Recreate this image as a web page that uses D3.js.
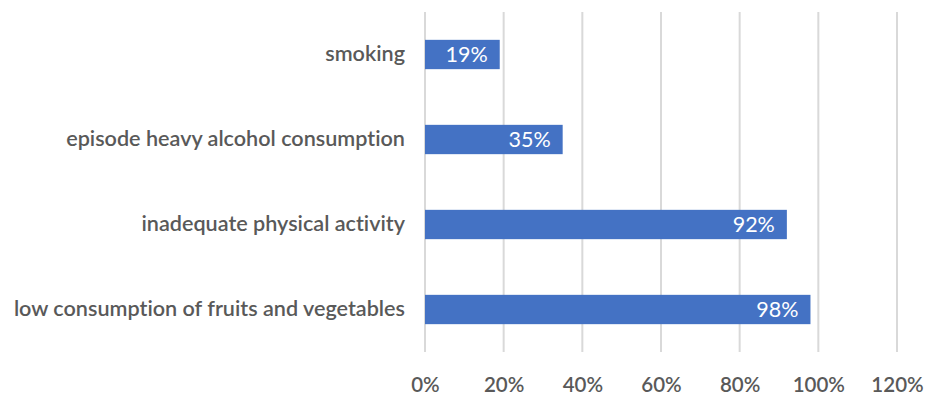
<!DOCTYPE html>
<html>
<head>
<meta charset="utf-8">
<script src="https://cdn.jsdelivr.net/npm/d3@7"></script>
<style>
  html, body { margin: 0; padding: 0; background: #fff; }
  svg { display: block; }
  text { font-family: Lato, "Open Sans", sans-serif; font-variant-ligatures: none; }
</style>
</head>
<body>
<svg id="chart" width="928" height="399"></svg>
<script>
// Risk factors and their prevalence (share of respondents)
const categories = [
  "smoking",
  "episode heavy alcohol consumption",
  "inadequate physical activity",
  "low consumption of fruits and vegetables"
];
const values = [0.19, 0.35, 0.92, 0.98];
const tickValues = [0, 0.2, 0.4, 0.6, 0.8, 1.0, 1.2];

const width = 928, height = 399;
const margin = { top: 12, right: 31, bottom: 47, left: 425 };

const svg = d3.select("#chart");

const x = d3.scaleLinear()
  .domain([0, 1.2])
  .range([margin.left, width - margin.right]);

const y = d3.scaleBand()
  .domain(categories)
  .range([margin.top, height - margin.bottom])
  .paddingInner(0.655)
  .paddingOuter(0.3275);

// vertical gridlines
svg.append("g")
  .selectAll("line")
  .data(tickValues)
  .join("line")
  .attr("x1", d => x(d)).attr("x2", d => x(d))
  .attr("y1", margin.top).attr("y2", height - margin.bottom)
  .attr("stroke", "#d9d9d9")
  .attr("stroke-width", 2);

// bars
svg.append("g")
  .selectAll("rect")
  .data(categories)
  .join("rect")
  .attr("x", x(0))
  .attr("y", d => y(d))
  .attr("width", (d, i) => x(values[i]) - x(0))
  .attr("height", y.bandwidth())
  .attr("fill", "#4472c4");

// value labels inside the end of each bar
svg.append("g")
  .selectAll("text")
  .data(categories)
  .join("text")
  .attr("x", (d, i) => x(values[i]) - 12)
  .attr("y", d => y(d) + y.bandwidth() / 2)
  .attr("dy", "0.36em")
  .attr("text-anchor", "end")
  .attr("fill", "#ffffff")
  .attr("font-size", 21.5)
  .text((d, i) => d3.format(".0%")(values[i]));

// category axis
const yAxis = svg.append("g")
  .attr("transform", `translate(${margin.left},0)`)
  .call(d3.axisLeft(y).tickSize(0).tickPadding(20));
yAxis.select(".domain").remove();
yAxis.selectAll("text")
  .attr("fill", "#595959")
  .attr("font-size", 21.6)
  .attr("font-weight", 600)
  .attr("font-family", "Lato, 'Open Sans', sans-serif");

// value axis
const xAxis = svg.append("g")
  .attr("transform", `translate(0,${height - margin.bottom})`)
  .call(d3.axisBottom(x).tickValues(tickValues).tickFormat(d3.format(".0%")).tickSize(0).tickPadding(25));
xAxis.select(".domain").remove();
xAxis.selectAll("text")
  .attr("fill", "#595959")
  .attr("font-size", 20.5)
  .attr("font-weight", 600)
  .attr("font-family", "Lato, 'Open Sans', sans-serif");
</script>
</body>
</html>
